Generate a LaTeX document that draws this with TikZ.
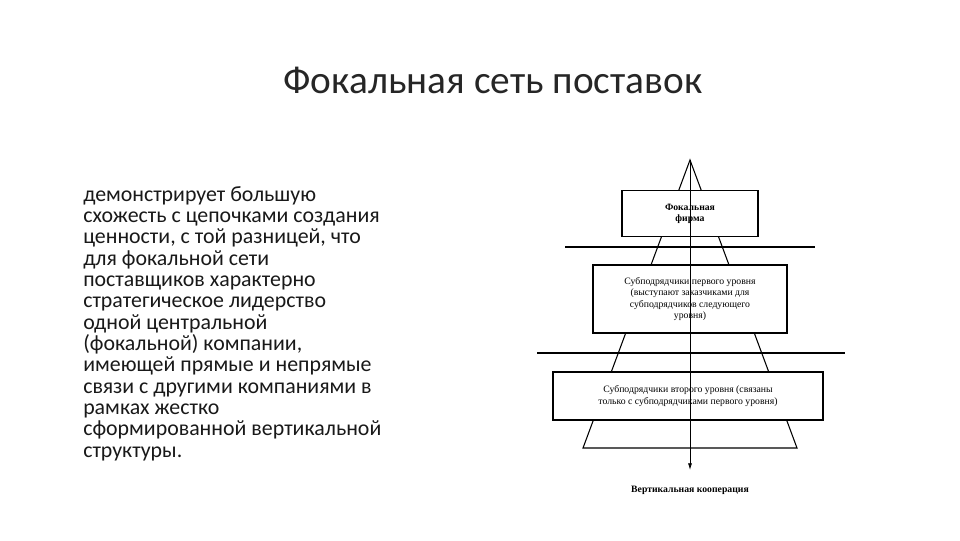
\documentclass[tikz,border=0pt]{standalone}
\usepackage{fontspec}
\usetikzlibrary{arrows.meta}
\setmainfont{Carlito}
\newfontfamily\serifd{Liberation Serif}
\begin{document}
\begin{tikzpicture}[x=0.75pt,y=-0.75pt,
  boxd/.style={draw,fill=white,line width=0.8pt,inner sep=0pt,align=center,font=\serifd\fontsize{7.3}{8.4}\selectfont},
  ln/.style={line width=0.8pt}]
\useasboundingbox (0,0) rectangle (960,540);
\node[font=\fontsize{29.5}{34}\selectfont,text=black!85] (title) at (493,80) {Фокальная сеть поставок};
\node[anchor=north west,align=left,inner sep=0pt,font=\fontsize{16.4}{16}\selectfont,text=black!90] (body) at (83,186) {демонстрирует большую\\схожесть с цепочками создания\\ценности, с той разницей, что\\для фокальной сети\\поставщиков характерно\\стратегическое лидерство\\одной центральной\\(фокальной) компании,\\имеющей прямые и непрямые\\связи с другими компаниями в\\рамках жестко\\сформированной вертикальной\\структуры.};
\coordinate (apex) at (690,160);
\coordinate (bl) at (583,448);
\coordinate (br) at (797,448);
\draw[ln] (apex) -- (bl) -- (br) -- cycle;
\coordinate (l1a) at (565,247); \coordinate (l1b) at (815,247);
\coordinate (l2a) at (537,353); \coordinate (l2b) at (845,353);
\draw[ln] (l1a) -- (l1b);
\draw[ln] (l2a) -- (l2b);
\node[boxd,minimum width=102pt,minimum height=35pt,font=\serifd\bfseries\fontsize{7.3}{8.4}\selectfont] (b1) at (690,213.5) {Фокальная\\фирма};
\node[boxd,minimum width=145.5pt,minimum height=51pt] (b2) at (690,299) {Субподрядчики первого уровня\\(выступают заказчиками для\\субподрядчиков следующего\\уровня)};
\node[boxd,minimum width=202.5pt,minimum height=36pt] (b3) at (688,396) {Субподрядчики второго уровня (связаны\\только с субподрядчиками первого уровня)};
\coordinate (aend) at (690,470);
\draw[line width=0.6pt,-{Latex[length=5pt,width=3pt]}] (apex) -- (aend);
\node[font=\serifd\bfseries\fontsize{7.3}{8.4}\selectfont] (lab) at (690,490) {Вертикальная кооперация};
\end{tikzpicture}
\end{document}
